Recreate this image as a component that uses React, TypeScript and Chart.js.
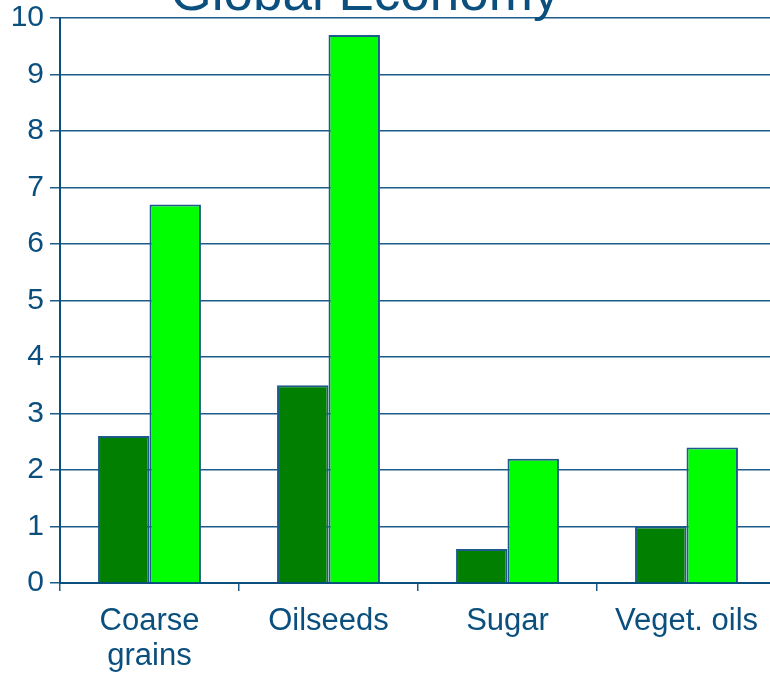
import React, { useEffect, useRef } from "react";
import { Chart, registerables } from "chart.js";

Chart.register(...registerables);

const categories: (string | string[])[] = [["Coarse", "grains"], "Oilseeds", "Sugar", "Veget. oils"];
const seriesA: number[] = [2.6, 3.5, 0.6, 1.0];
const seriesB: number[] = [6.7, 9.7, 2.2, 2.4];
const titleText = "Global Economy";

const INK = "#0a4f7e";
const GRID = "#1d5c8a";
const FONT = "Arial, 'Liberation Sans', sans-serif";

const titlePlugin = {
  id: "topTitle",
  afterDraw(chart: Chart) {
    const ctx = chart.ctx;
    ctx.save();
    ctx.fillStyle = INK;
    ctx.font = `53px ${FONT}`;
    ctx.textAlign = "center";
    ctx.textBaseline = "alphabetic";
    ctx.fillText(titleText, 365, 10);
    ctx.restore();
  },
};

export default function App() {
  const ref = useRef<HTMLCanvasElement | null>(null);

  useEffect(() => {
    document.body.style.margin = "0";
    if (!ref.current) return;
    const chart = new Chart(ref.current, {
      type: "bar",
      data: {
        labels: categories,
        datasets: [
          {
            label: "Series A",
            data: seriesA,
            backgroundColor: "#007f00",
            borderColor: GRID,
            borderWidth: 2,
          },
          {
            label: "Series B",
            data: seriesB,
            backgroundColor: "#00ff00",
            borderColor: GRID,
            borderWidth: 2,
          },
        ],
      },
      options: {
        responsive: false,
        animation: false,
        layout: { padding: { top: 18, right: 4, left: 0, bottom: 0 } },
        datasets: { bar: { categoryPercentage: 0.575, barPercentage: 1 } },
        plugins: {
          legend: { display: false },
          title: { display: false },
          tooltip: { enabled: false },
        },
        scales: {
          x: {
            grid: {
              display: true,
              offset: true,
              drawOnChartArea: false,
              drawTicks: true,
              tickLength: 8,
              color: GRID,
              lineWidth: 1.5,
            },
            border: { display: true, color: INK, width: 2 },
            ticks: {
              color: INK,
              font: { size: 31, family: FONT, lineHeight: 1.13 },
              padding: 13,
              maxRotation: 0,
              autoSkip: false,
            },
            afterFit(scale: any) {
              scale.height = 92;
            },
          },
          y: {
            min: 0,
            max: 10,
            ticks: {
              stepSize: 1,
              color: INK,
              font: { size: 30, family: FONT, lineHeight: 0.8 },
              padding: 6,
            },
            grid: {
              color: GRID,
              lineWidth: 1.5,
              tickLength: 10,
              drawTicks: true,
            },
            border: { display: true, color: INK, width: 2 },
            afterFit(scale: any) {
              scale.width = 60;
            },
          },
        },
      },
      plugins: [titlePlugin],
    });
    return () => chart.destroy();
  }, []);

  return (
    <div style={{ position: "absolute", left: 0, top: 0, width: 770, height: 675, overflow: "hidden", background: "#fff" }}>
      <canvas ref={ref} width={780} height={675} style={{ display: "block" }} />
    </div>
  );
}
